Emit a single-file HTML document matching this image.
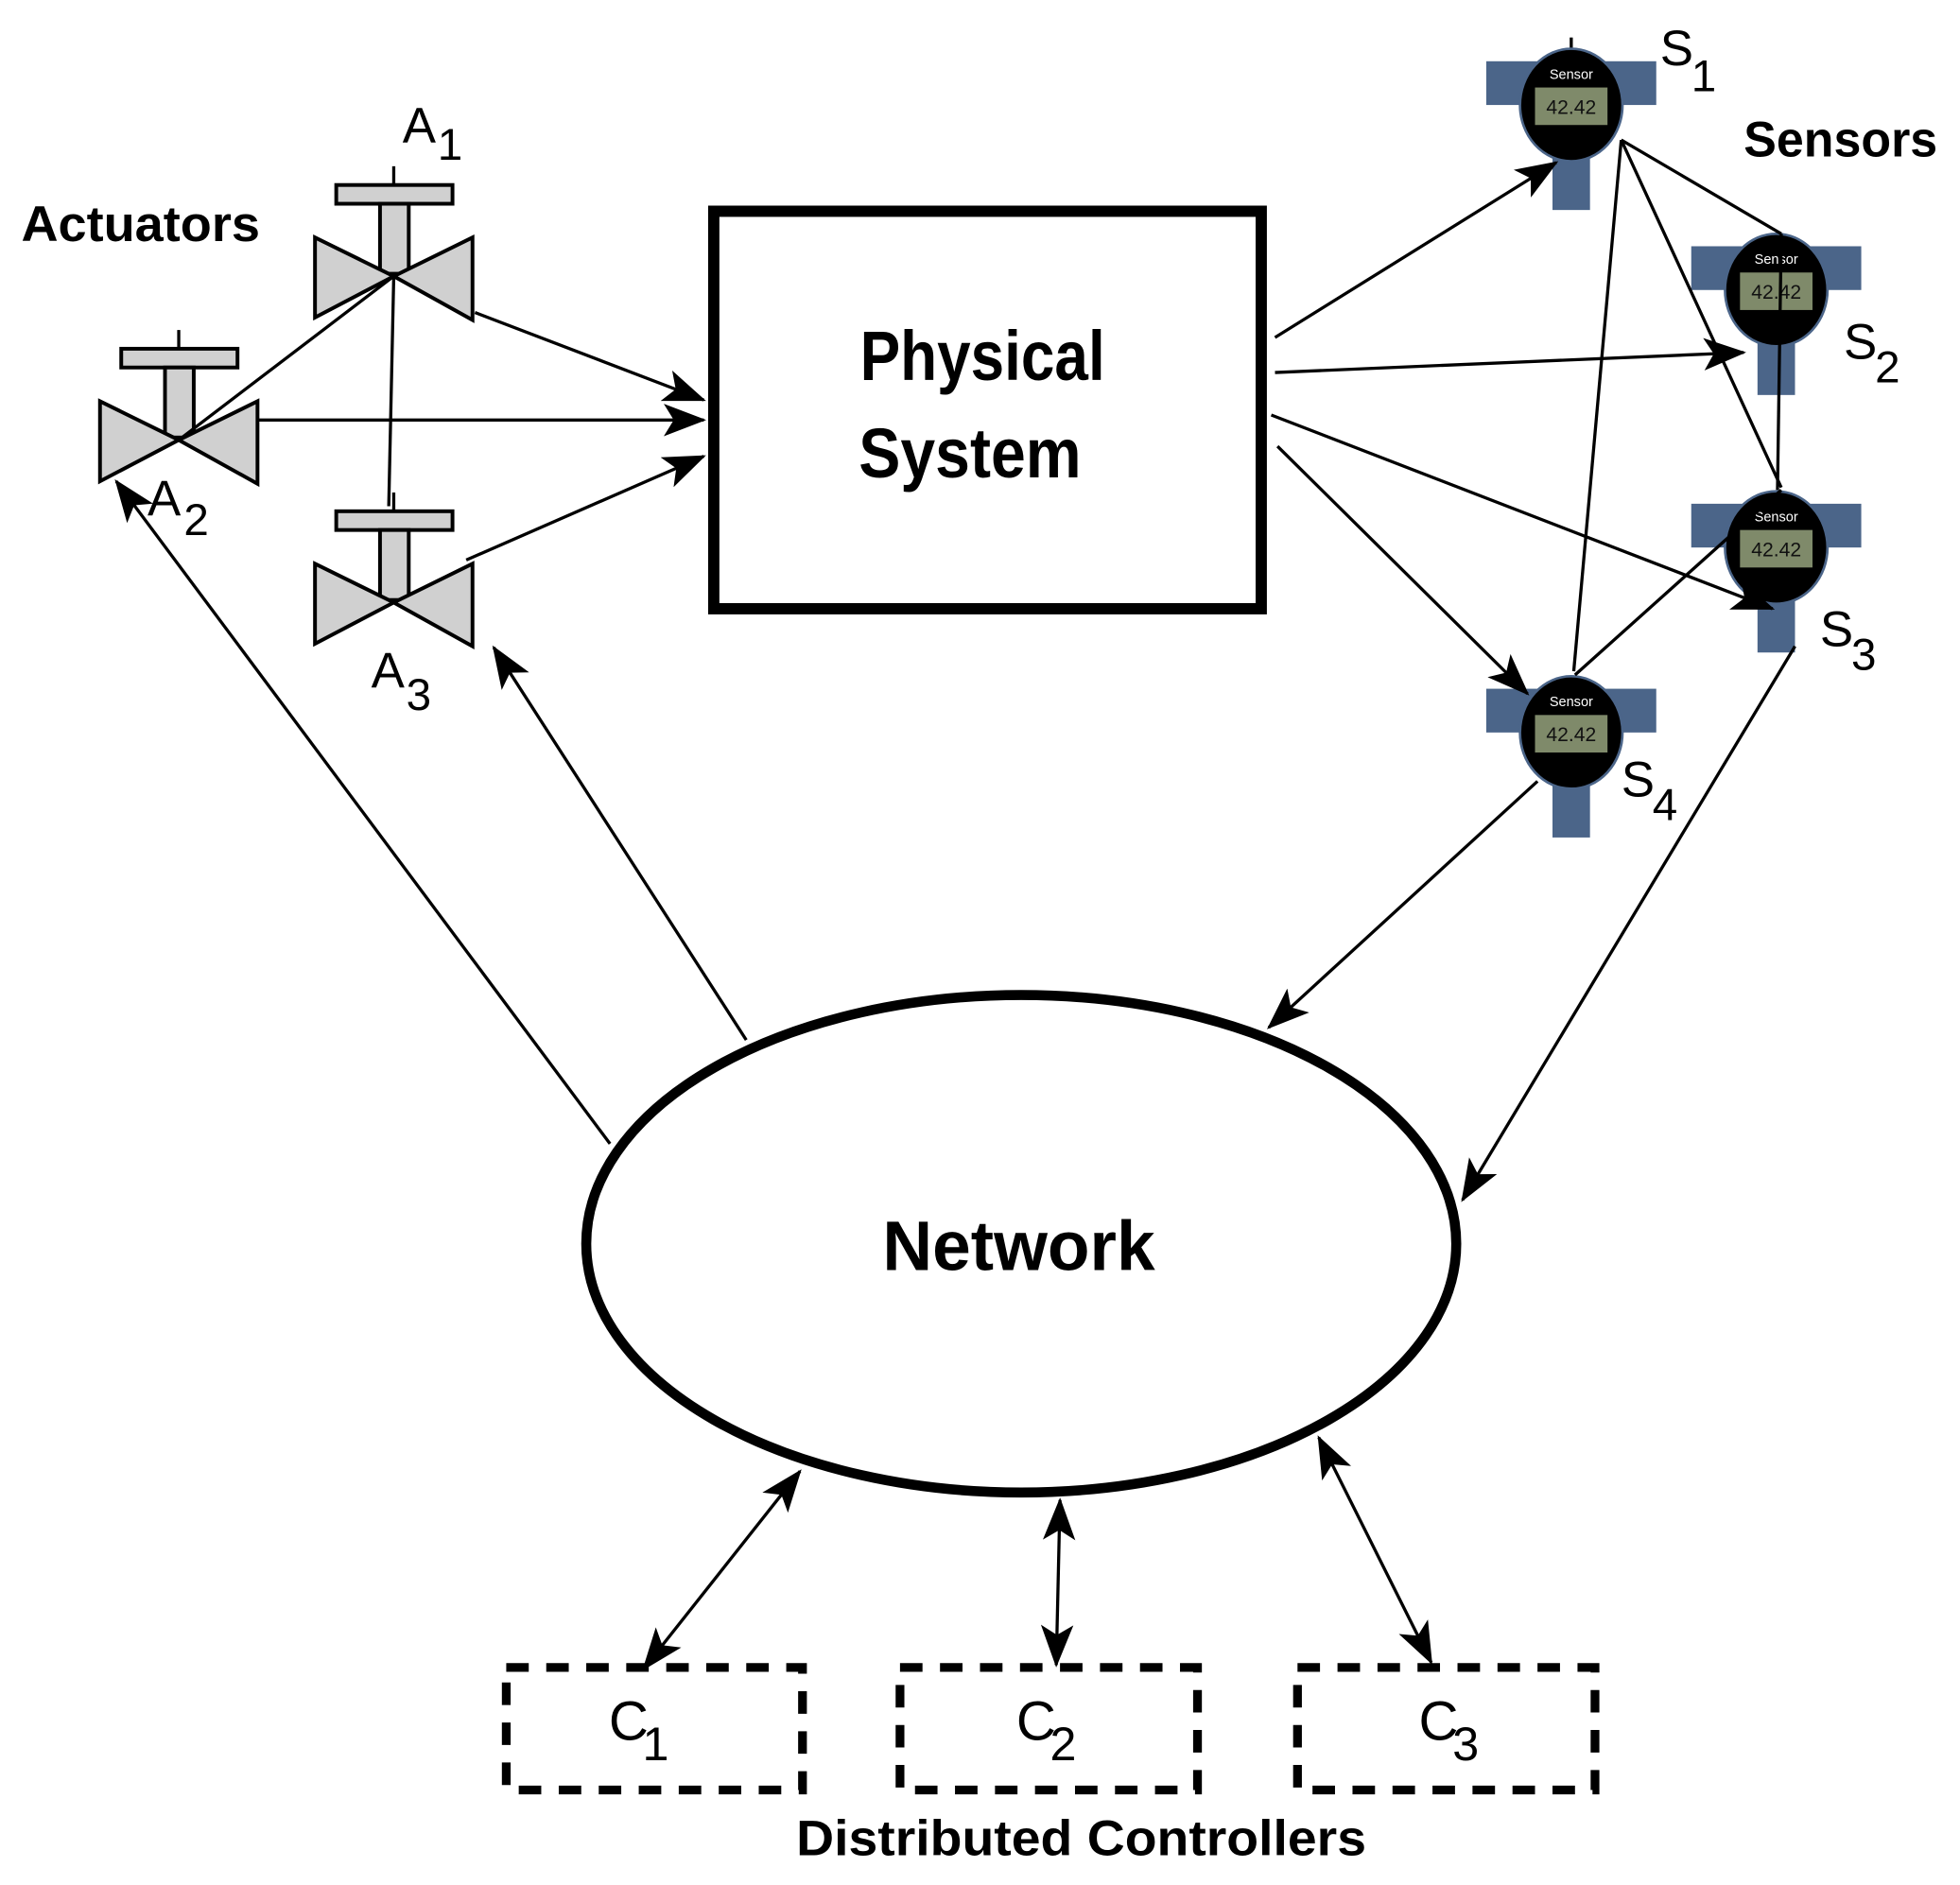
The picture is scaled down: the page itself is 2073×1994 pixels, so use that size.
<!DOCTYPE html>
<html><head><meta charset="utf-8"><style>html,body{margin:0;padding:0;background:#fff}svg{display:block}</style></head>
<body>
<svg width="2073" height="1994" viewBox="0 0 1568 1508" preserveAspectRatio="none" xmlns="http://www.w3.org/2000/svg" font-family="Liberation Sans, sans-serif">
<defs>
<marker id="ah" markerUnits="userSpaceOnUse" markerWidth="34" markerHeight="26" refX="32" refY="13" orient="auto-start-reverse">
<path d="M0,0 L34,13 L0,26 L8,13 Z" fill="#000"/>
</marker>
<g id="valve">
<line x1="0" y1="-88" x2="0" y2="-74" stroke="#000" stroke-width="2.5"/>
<rect x="-46" y="-73" width="93" height="15" fill="#d0d0d0" stroke="#000" stroke-width="3"/>
<rect x="-11" y="-58" width="23" height="56" fill="#d0d0d0" stroke="#000" stroke-width="3"/>
<path d="M-63,-31 L-63,33 L0,0 Z M63,-31 L63,35 L0,0 Z" fill="#d0d0d0" stroke="#000" stroke-width="3" stroke-linejoin="miter"/>
</g>
<g id="sensor">
<rect x="-68" y="-35" width="136" height="35" fill="#4b6589"/>
<rect x="-15" y="0" width="30" height="84" fill="#4b6589"/>
<ellipse cx="0" cy="0" rx="41" ry="45" fill="#000" stroke="#4b6589" stroke-width="2"/>
<text x="0" y="-21" font-size="11" fill="#fff" text-anchor="middle">Sensor</text>
<rect x="-29" y="-14" width="58" height="30" fill="#7f8a6a"/>
<text x="0" y="7" font-size="16" fill="#111" text-anchor="middle">42.42</text>
</g>
</defs>

<text x="17" y="193" font-size="40" font-weight="bold" textLength="191" lengthAdjust="spacingAndGlyphs">Actuators</text>
<use href="#valve" x="315" y="221"/>
<use href="#valve" x="143" y="352"/>
<use href="#valve" x="315" y="482"/>
<text x="322" y="114" font-size="40">A</text><text x="350" y="128" font-size="36">1</text>
<text x="118" y="412" font-size="40">A</text><text x="147" y="428" font-size="36">2</text>
<text x="297" y="550" font-size="40">A</text><text x="325" y="568" font-size="36">3</text>
<g stroke="#000" stroke-width="2.5" fill="none">
<line x1="143" y1="352" x2="315" y2="221"/>
<line x1="315" y1="221" x2="311" y2="405"/>
<line x1="380" y1="250" x2="563" y2="320" marker-end="url(#ah)"/>
<line x1="207" y1="336" x2="563" y2="336" marker-end="url(#ah)"/>
<line x1="373" y1="448" x2="563" y2="365" marker-end="url(#ah)"/>
</g>

<rect x="571" y="169" width="438" height="318" fill="none" stroke="#000" stroke-width="9"/>
<text x="786" y="304" font-size="56" font-weight="bold" text-anchor="middle" textLength="196" lengthAdjust="spacingAndGlyphs">Physical</text>
<text x="776" y="382" font-size="56" font-weight="bold" text-anchor="middle" textLength="178" lengthAdjust="spacingAndGlyphs">System</text>

<line x1="1257" y1="30" x2="1257" y2="42" stroke="#000" stroke-width="2.5"/>
<use href="#sensor" x="1257" y="84"/>
<use href="#sensor" x="1421" y="232"/>
<use href="#sensor" x="1421" y="438"/>
<use href="#sensor" x="1257" y="586"/>
<text x="1395" y="125" font-size="40" font-weight="bold" textLength="155" lengthAdjust="spacingAndGlyphs">Sensors</text>
<text x="1328" y="52" font-size="40">S</text><text x="1353" y="73" font-size="36">1</text>
<text x="1475" y="287" font-size="40">S</text><text x="1500" y="306" font-size="36">2</text>
<text x="1456" y="517" font-size="40">S</text><text x="1481" y="536" font-size="36">3</text>
<text x="1297" y="637" font-size="40">S</text><text x="1322" y="656" font-size="36">4</text>
<g stroke="#000" stroke-width="2.5" fill="none">
<line x1="1020" y1="270" x2="1245" y2="130" marker-end="url(#ah)"/>
<line x1="1020" y1="298" x2="1395" y2="282" marker-end="url(#ah)"/>
<line x1="1017" y1="332" x2="1418" y2="487" marker-end="url(#ah)"/>
<line x1="1022" y1="357" x2="1222" y2="555" marker-end="url(#ah)"/>
<line x1="1297" y1="112" x2="1259" y2="537"/>
<line x1="1297" y1="112" x2="1425" y2="390"/>
<line x1="1297" y1="112" x2="1425" y2="187"/>
<line x1="1425" y1="187" x2="1422" y2="392"/>
<line x1="1425" y1="392" x2="1260" y2="540"/>
<line x1="1230" y1="625" x2="1015" y2="822" marker-end="url(#ah)"/>
<line x1="1436" y1="517" x2="1170" y2="960" marker-end="url(#ah)"/>
<line x1="488" y1="915" x2="93" y2="385" marker-end="url(#ah)"/>
<line x1="597" y1="832" x2="395" y2="518" marker-end="url(#ah)"/>
<line x1="640" y1="1177" x2="515" y2="1335" marker-start="url(#ah)" marker-end="url(#ah)"/>
<line x1="848" y1="1200" x2="845" y2="1332" marker-start="url(#ah)" marker-end="url(#ah)"/>
<line x1="1055" y1="1150" x2="1145" y2="1330" marker-start="url(#ah)" marker-end="url(#ah)"/>
</g>

<ellipse cx="817" cy="995" rx="348" ry="199" fill="none" stroke="#000" stroke-width="8"/>
<text x="815" y="1016" font-size="56" font-weight="bold" text-anchor="middle" textLength="218" lengthAdjust="spacingAndGlyphs">Network</text>

<g fill="none" stroke="#000" stroke-width="7" stroke-dasharray="18 14">
<rect x="405" y="1334" width="237" height="98"/>
<rect x="720" y="1334" width="238" height="98"/>
<rect x="1038" y="1334" width="238" height="98"/>
</g>
<text x="487" y="1392" font-size="44">C</text><text x="514" y="1408" font-size="38">1</text>
<text x="813" y="1392" font-size="44">C</text><text x="840" y="1408" font-size="38">2</text>
<text x="1135" y="1392" font-size="44">C</text><text x="1162" y="1408" font-size="38">3</text>
<text x="865" y="1484" font-size="40" font-weight="bold" text-anchor="middle" textLength="456" lengthAdjust="spacingAndGlyphs">Distributed Controllers</text>
</svg>
</body></html>
